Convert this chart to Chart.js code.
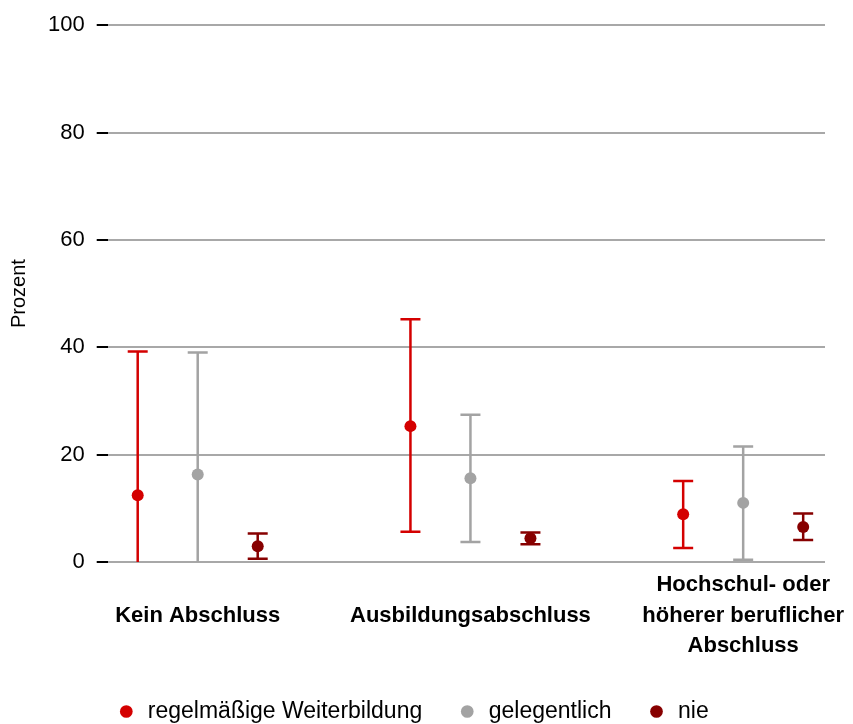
<!DOCTYPE html>
<html lang="de">
<head>
<meta charset="utf-8">
<title>Weiterbildung nach Abschluss</title>
<script src="https://cdn.jsdelivr.net/npm/chart.js@4/dist/chart.umd.min.js"></script>
<style>
  html, body { margin: 0; padding: 0; background: #fff; }
  #wrap { width: 853px; height: 724px; }
</style>
</head>
<body>
<div id="wrap"><canvas id="chart"></canvas></div>
<script>
// x categories, one entry per label line
const categories = [
  ['Kein Abschluss'],
  ['Ausbildungsabschluss'],
  ['Hochschul- oder', 'höherer beruflicher', 'Abschluss']
];
const seriesNames = ['regelmäßige Weiterbildung', 'gelegentlich', 'nie'];
const seriesColors = ['#d40000', '#a3a3a3', '#870000'];

// point estimates in Prozent
const regelValues = [12.4, 25.3, 8.9];
const gelegValues = [16.3, 15.6, 11.0];
const nieValues = [2.9, 4.4, 6.5];

// interval limits
const regelLow = [0, 5.6, 2.6];
const regelHigh = [39.2, 45.2, 15.1];
const gelegLow = [0, 3.7, 0.4];
const gelegHigh = [39.0, 27.4, 21.5];
const nieLow = [0.6, 3.3, 4.1];
const nieHigh = [5.3, 5.5, 9.0];

const yTicks = [0, 20, 40, 60, 80, 100];

// horizontal shift of each series inside a group (axis units)
const seriesOffset = [-0.22, 0, 0.22];
const FONT = "'Liberation Sans', Arial, Helvetica, sans-serif";

function buildPoints(values, low, high, s) {
  return values.map((v, i) => ({ x: i + seriesOffset[s], y: v, low: low[i], high: high[i] }));
}

const seriesData = [
  buildPoints(regelValues, regelLow, regelHigh, 0),
  buildPoints(gelegValues, gelegLow, gelegHigh, 1),
  buildPoints(nieValues, nieLow, nieHigh, 2)
];

// whiskers + caps, drawn under the points
const errorBars = {
  id: 'errorBars',
  beforeDatasetsDraw(chart) {
    const { ctx, scales: { x, y } } = chart;
    ctx.save();
    chart.data.datasets.forEach((ds, i) => {
      if (!chart.isDatasetVisible(i)) return;
      ctx.strokeStyle = ds.backgroundColor;
      ctx.lineWidth = 2.5;
      ds.data.forEach(p => {
        const px = x.getPixelForValue(p.x);
        const top = y.getPixelForValue(p.high);
        const bot = y.getPixelForValue(p.low);
        ctx.beginPath();
        ctx.moveTo(px, top);
        ctx.lineTo(px, bot);
        ctx.moveTo(px - 10, top);
        ctx.lineTo(px + 10, top);
        if (p.low > 0) {
          ctx.moveTo(px - 10, bot);
          ctx.lineTo(px + 10, bot);
        }
        ctx.stroke();
      });
    });
    ctx.restore();
  }
};

new Chart(document.getElementById('chart'), {
  type: 'scatter',
  data: {
    datasets: seriesNames.map((name, s) => ({
      label: name,
      data: seriesData[s],
      backgroundColor: seriesColors[s],
      borderColor: seriesColors[s],
      borderWidth: 0,
      pointRadius: 6,
      pointHoverRadius: 7
    }))
  },
  options: {
    responsive: true,
    maintainAspectRatio: false,
    animation: false,
    layout: { padding: { top: 23, right: 28, left: 0, bottom: 0 } },
    plugins: {
      tooltip: {
        callbacks: {
          label: c => `${c.dataset.label}: ${c.raw.y} (${c.raw.low}–${c.raw.high})`
        }
      },
      legend: {
        position: 'bottom',
        maxHeight: 59,
        labels: {
          usePointStyle: true,
          pointStyle: 'circle',
          boxWidth: 20,
          boxHeight: 9,
          padding: 35,
          color: '#000',
          font: { family: FONT, size: 23 }
        }
      }
    },
    scales: {
      x: {
        type: 'linear',
        min: -0.33,
        max: 2.3,
        afterBuildTicks: scale => { scale.ticks = categories.map((c, i) => ({ value: i })); },
        // hidden grid, tick length only reserves room above the labels
        grid: { display: false, tickLength: 4 },
        border: { display: false },
        ticks: {
          padding: 4,
          maxRotation: 0,
          autoSkip: false,
          color: '#000',
          font: { family: FONT, size: 22, weight: 'bold', lineHeight: 1.38 },
          callback: v => {
            const lines = categories[v];
            return lines.length === 1 ? ['', lines[0]] : lines;
          }
        }
      },
      y: {
        min: 0,
        max: 100,
        afterBuildTicks: scale => { scale.ticks = yTicks.map(v => ({ value: v })); },
        border: { display: false },
        grid: {
          color: '#a8a8a8',
          lineWidth: 2,
          tickColor: '#000',
          tickLength: 11,
          tickWidth: 2
        },
        ticks: {
          padding: 12,
          color: '#000',
          font: { family: FONT, size: 22 }
        },
        title: {
          display: true,
          text: 'Prozent',
          color: '#000',
          padding: { top: 7, bottom: 5 },
          font: { family: FONT, size: 20 }
        }
      }
    }
  },
  plugins: [errorBars]
});
</script>
</body>
</html>
